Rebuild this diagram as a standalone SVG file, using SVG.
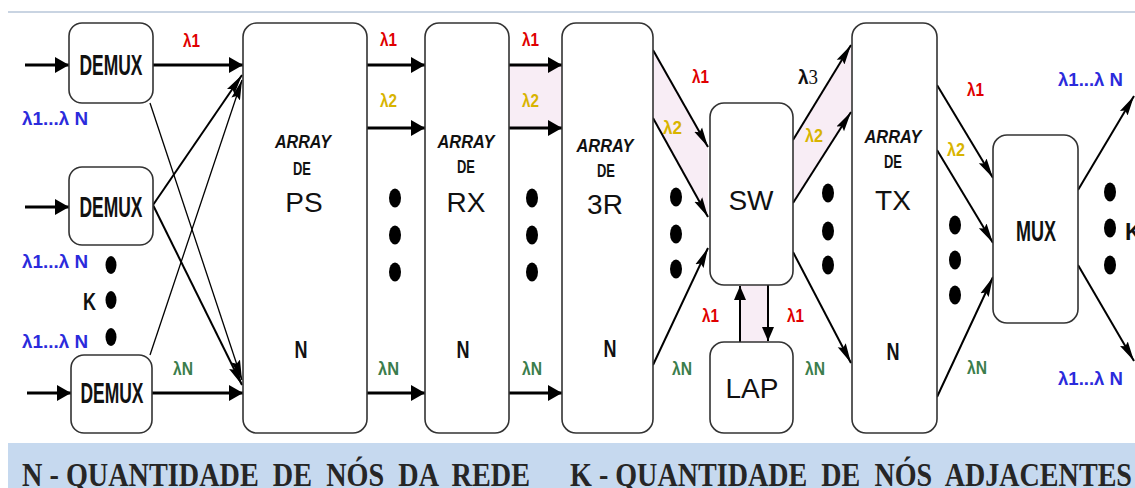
<svg xmlns="http://www.w3.org/2000/svg" width="1135" height="488" viewBox="0 0 1135 488">
<style>
.box{fill:#fff;stroke:#333;stroke-width:1.6}
.w{stroke:#000;fill:none}
.h{stroke-width:3}
.d{stroke-width:2}
.t{stroke-width:1.3}
.lab{font-family:"Liberation Sans",Arial,sans-serif;font-weight:bold;fill:#111}
.dm{font-size:29px;text-anchor:middle}
.big{font-family:"Liberation Sans",Arial,sans-serif;fill:#111;font-size:28px;text-anchor:middle}
.arr{font-family:"Liberation Sans",Arial,sans-serif;font-weight:bold;font-style:italic;font-size:19px;fill:#111;text-anchor:middle}
.de{font-family:"Liberation Sans",Arial,sans-serif;font-weight:bold;font-size:18px;fill:#111;text-anchor:middle}
.nn{font-family:"Liberation Sans",Arial,sans-serif;font-weight:bold;font-size:24px;fill:#111;text-anchor:middle}
.lm{font-family:"Liberation Sans",Arial,sans-serif;font-weight:bold;font-size:19px}
.bl{font-size:18px}
.r{fill:#e00000}.y{fill:#d8b400}.g{fill:#3b7d4c}.b{fill:#2b2bdc}.k{fill:#111}
.dot{fill:#000}
.foot{font-family:"Liberation Serif","Times New Roman",serif;font-weight:bold;font-size:34px;fill:#262626}
</style>
<defs>
<marker id="ah" markerUnits="userSpaceOnUse" viewBox="0 0 14 16" refX="14" refY="8" markerWidth="14" markerHeight="16" orient="auto"><path d="M0,0 L14,8 L0,16 z" fill="#000"/></marker>
<marker id="dh" markerUnits="userSpaceOnUse" viewBox="0 0 20 11" refX="20" refY="5.5" markerWidth="20" markerHeight="11" orient="auto"><path d="M0,1 L20,5.5 L0,10 L3,5.5 z" fill="#000"/></marker>
<marker id="vh" markerUnits="userSpaceOnUse" viewBox="0 0 14 12" refX="14" refY="6" markerWidth="14" markerHeight="12" orient="auto"><path d="M0,0 L14,6 L0,12 z" fill="#000"/></marker>
</defs>

<rect x="0" y="0" width="1135" height="488" fill="#fff"/>
<line x1="8" y1="12" x2="1135" y2="12" stroke="#b7c6d8" stroke-width="1.5"/>

<g id="shading" fill="#f8edf5">
<rect x="509" y="65" width="53" height="63"/>
<polygon points="653,50 708,147 708,217 653,118"/>
<polygon points="793,140 851,45 851,112 793,203"/>
<rect x="740" y="285" width="28" height="57"/>
</g>

<g id="connectors" class="w">
<line class="h" x1="25" y1="65" x2="69" y2="65" marker-end="url(#ah)"/>
<line class="h" x1="25" y1="207" x2="69" y2="207" marker-end="url(#ah)"/>
<line class="h" x1="27" y1="393" x2="71" y2="393" marker-end="url(#ah)"/>
<line class="h" x1="153" y1="65" x2="243" y2="65" marker-end="url(#ah)"/>
<line class="h" x1="152" y1="393" x2="243" y2="393" marker-end="url(#ah)"/>
<line class="t" x1="150" y1="103" x2="242" y2="380" marker-end="url(#dh)"/>
<line class="d" x1="153" y1="205" x2="242" y2="75" marker-end="url(#dh)"/>
<line class="d" x1="153" y1="205" x2="242" y2="385" marker-end="url(#dh)"/>
<line class="t" x1="150" y1="355" x2="242" y2="80" marker-end="url(#dh)"/>
<line class="h" x1="367" y1="65" x2="425" y2="65" marker-end="url(#ah)"/>
<line class="h" x1="367" y1="128" x2="425" y2="128" marker-end="url(#ah)"/>
<line class="h" x1="367" y1="393" x2="425" y2="393" marker-end="url(#ah)"/>
<line class="h" x1="509" y1="65" x2="562" y2="65" marker-end="url(#ah)"/>
<line class="h" x1="509" y1="128" x2="562" y2="128" marker-end="url(#ah)"/>
<line class="h" x1="509" y1="393" x2="562" y2="393" marker-end="url(#ah)"/>
<line class="d" x1="653" y1="50" x2="708" y2="147" marker-end="url(#dh)"/>
<line class="d" x1="653" y1="118" x2="708" y2="217" marker-end="url(#dh)"/>
<line class="d" x1="653" y1="365" x2="708" y2="248" marker-end="url(#dh)"/>
<line class="d" x1="793" y1="140" x2="851" y2="45" marker-end="url(#dh)"/>
<line class="d" x1="793" y1="203" x2="851" y2="112" marker-end="url(#dh)"/>
<line class="d" x1="793" y1="252" x2="851" y2="363" marker-end="url(#dh)"/>
<line class="d" x1="740" y1="342" x2="740" y2="286" marker-end="url(#vh)"/>
<line class="d" x1="768" y1="285" x2="768" y2="341" marker-end="url(#vh)"/>
<line class="d" x1="937" y1="85" x2="993" y2="178" marker-end="url(#dh)"/>
<line class="d" x1="937" y1="150" x2="993" y2="243" marker-end="url(#dh)"/>
<line class="d" x1="937" y1="397" x2="993" y2="277" marker-end="url(#dh)"/>
<line class="d" x1="1078" y1="190" x2="1134" y2="96" marker-end="url(#dh)"/>
<line class="d" x1="1078" y1="265" x2="1134" y2="361" marker-end="url(#dh)"/>
</g>

<g id="demux1"><rect class="box" x="69" y="23" width="84" height="80" rx="13"/><text class="lab dm" x="111" y="75" textLength="63" lengthAdjust="spacingAndGlyphs">DEMUX</text></g>
<g id="demux2"><rect class="box" x="69" y="167" width="84" height="78" rx="13"/><text class="lab dm" x="111" y="217" textLength="63" lengthAdjust="spacingAndGlyphs">DEMUX</text></g>
<g id="demux3"><rect class="box" x="71" y="355" width="81" height="78" rx="13"/><text class="lab dm" x="112" y="403" textLength="63" lengthAdjust="spacingAndGlyphs">DEMUX</text></g>

<g id="ps"><rect class="box" x="243" y="23" width="124" height="410" rx="14"/>
<text class="arr" x="303" y="148" textLength="56" lengthAdjust="spacingAndGlyphs">ARRAY</text>
<text class="de" x="302" y="175" textLength="18" lengthAdjust="spacingAndGlyphs">DE</text>
<text class="big" x="304" y="212">PS</text>
<text class="nn" x="301" y="358" textLength="13" lengthAdjust="spacingAndGlyphs">N</text></g>

<g id="rx"><rect class="box" x="425" y="23" width="84" height="410" rx="14"/>
<text class="arr" x="466" y="148" textLength="57" lengthAdjust="spacingAndGlyphs">ARRAY</text>
<text class="de" x="466" y="173" textLength="18" lengthAdjust="spacingAndGlyphs">DE</text>
<text class="big" x="466" y="212">RX</text>
<text class="nn" x="463" y="358" textLength="13" lengthAdjust="spacingAndGlyphs">N</text></g>

<g id="r3"><rect class="box" x="562" y="23" width="91" height="410" rx="14"/>
<text class="arr" x="605" y="152" textLength="57" lengthAdjust="spacingAndGlyphs">ARRAY</text>
<text class="de" x="606" y="177" textLength="18" lengthAdjust="spacingAndGlyphs">DE</text>
<text class="big" x="605" y="214">3R</text>
<text class="nn" x="610" y="357" textLength="13" lengthAdjust="spacingAndGlyphs">N</text></g>

<g id="sw"><rect class="box" x="710" y="103" width="83" height="182" rx="14"/>
<text class="big" x="751" y="210">SW</text></g>

<g id="lap"><rect class="box" x="710" y="342" width="83" height="91" rx="14"/>
<text class="big" x="752" y="398">LAP</text></g>

<g id="tx"><rect class="box" x="852" y="23" width="85" height="410" rx="14"/>
<text class="arr" x="893" y="143" textLength="57" lengthAdjust="spacingAndGlyphs">ARRAY</text>
<text class="de" x="893" y="168" textLength="18" lengthAdjust="spacingAndGlyphs">DE</text>
<text class="big" x="893" y="210">TX</text>
<text class="nn" x="893" y="360" textLength="13" lengthAdjust="spacingAndGlyphs">N</text></g>

<g id="mux"><rect class="box" x="993" y="135" width="85" height="188" rx="14"/>
<text class="lab dm" x="1036" y="241" textLength="40" lengthAdjust="spacingAndGlyphs">MUX</text></g>

<g id="dots" class="dot">
<ellipse cx="111" cy="265" rx="5.5" ry="9"/><ellipse cx="111" cy="300" rx="5.5" ry="9"/><ellipse cx="111" cy="337" rx="5.5" ry="9"/>
<ellipse cx="395" cy="198" rx="6" ry="9.5"/><ellipse cx="395" cy="235" rx="6" ry="9.5"/><ellipse cx="395" cy="272" rx="6" ry="9.5"/>
<ellipse cx="532" cy="198" rx="6" ry="9.5"/><ellipse cx="532" cy="235" rx="6" ry="9.5"/><ellipse cx="532" cy="272" rx="6" ry="9.5"/>
<ellipse cx="676" cy="197" rx="6" ry="9.5"/><ellipse cx="676" cy="234" rx="6" ry="9.5"/><ellipse cx="676" cy="269" rx="6" ry="9.5"/>
<ellipse cx="828" cy="193" rx="6" ry="9.5"/><ellipse cx="828" cy="231" rx="6" ry="9.5"/><ellipse cx="828" cy="265" rx="6" ry="9.5"/>
<ellipse cx="955" cy="225" rx="6" ry="9.5"/><ellipse cx="955" cy="260" rx="6" ry="9.5"/><ellipse cx="955" cy="295" rx="6" ry="9.5"/>
<ellipse cx="1110" cy="192" rx="6" ry="9.5"/><ellipse cx="1110" cy="228" rx="6" ry="9.5"/><ellipse cx="1110" cy="265" rx="6" ry="9.5"/>
</g>

<g id="labels" class="lm">
<text class="b bl" x="22" y="125" textLength="66" lengthAdjust="spacingAndGlyphs">λ1...λ N</text>
<text class="b bl" x="22" y="268" textLength="66" lengthAdjust="spacingAndGlyphs">λ1...λ N</text>
<text class="b bl" x="22" y="348" textLength="66" lengthAdjust="spacingAndGlyphs">λ1...λ N</text>
<text class="lab" x="83" y="310" font-size="23" textLength="13" lengthAdjust="spacingAndGlyphs">K</text>
<text class="r" x="183" y="47" textLength="17" lengthAdjust="spacingAndGlyphs">λ1</text>
<text class="g" x="173" y="375" textLength="20" lengthAdjust="spacingAndGlyphs">λN</text>
<text class="r" x="380" y="46" textLength="17" lengthAdjust="spacingAndGlyphs">λ1</text>
<text class="y" x="380" y="107" textLength="17" lengthAdjust="spacingAndGlyphs">λ2</text>
<text class="g" x="378" y="375" textLength="21" lengthAdjust="spacingAndGlyphs">λN</text>
<text class="r" x="522" y="46" textLength="17" lengthAdjust="spacingAndGlyphs">λ1</text>
<text class="y" x="522" y="107" textLength="17" lengthAdjust="spacingAndGlyphs">λ2</text>
<text class="g" x="522" y="375" textLength="20" lengthAdjust="spacingAndGlyphs">λN</text>
<text class="r" x="692" y="83" textLength="17" lengthAdjust="spacingAndGlyphs">λ1</text>
<text class="y" x="663" y="134" textLength="19" lengthAdjust="spacingAndGlyphs">λ2</text>
<text class="g" x="672" y="375" textLength="20" lengthAdjust="spacingAndGlyphs">λN</text>
<text class="k" x="798" y="84" font-size="21" textLength="20" lengthAdjust="spacingAndGlyphs">λ<tspan font-family="Liberation Serif,serif" font-weight="normal">3</tspan></text>
<text class="y" x="805" y="142" textLength="18" lengthAdjust="spacingAndGlyphs">λ2</text>
<text class="g" x="805" y="375" textLength="20" lengthAdjust="spacingAndGlyphs">λN</text>
<text class="r" x="702" y="322" textLength="17" lengthAdjust="spacingAndGlyphs">λ1</text>
<text class="r" x="787" y="322" textLength="17" lengthAdjust="spacingAndGlyphs">λ1</text>
<text class="r" x="967" y="96" textLength="17" lengthAdjust="spacingAndGlyphs">λ1</text>
<text class="y" x="947" y="156" textLength="18" lengthAdjust="spacingAndGlyphs">λ2</text>
<text class="g" x="967" y="374" textLength="20" lengthAdjust="spacingAndGlyphs">λN</text>
<text class="b bl" x="1058" y="86" textLength="65" lengthAdjust="spacingAndGlyphs">λ1...λ N</text>
<text class="b bl" x="1058" y="385" textLength="65" lengthAdjust="spacingAndGlyphs">λ1...λ N</text>
<text class="lab" x="1125" y="240" font-size="23">K</text>
</g>

<g id="legend">
<rect x="8" y="443" width="1127" height="45" fill="#c6d9ef"/>
<text class="foot" x="22" y="486" xml:space="preserve" textLength="508" lengthAdjust="spacingAndGlyphs">N - QUANTIDADE  DE  NÓS  DA  REDE</text>
<text class="foot" x="570" y="486" xml:space="preserve" textLength="562" lengthAdjust="spacingAndGlyphs">K - QUANTIDADE  DE  NÓS  ADJACENTES</text>
</g>
</svg>
